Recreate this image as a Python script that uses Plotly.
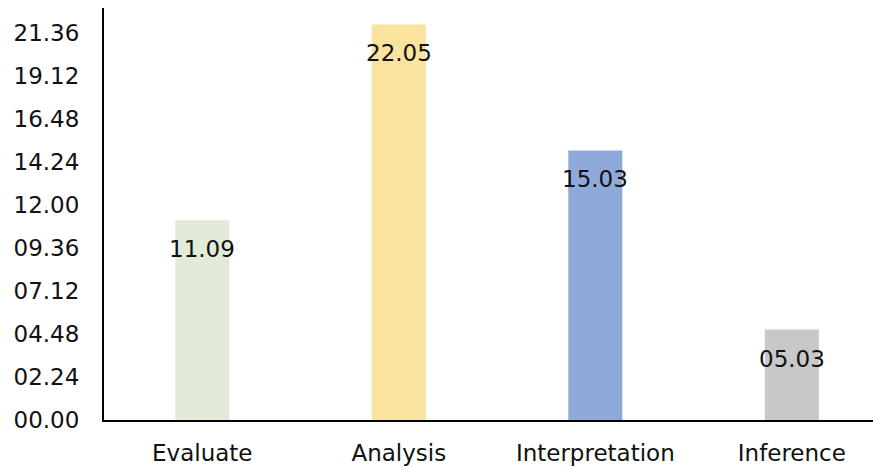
import plotly.graph_objects as go

# Durations recorded as minutes.seconds
categories = ["Evaluate", "Analysis", "Interpretation", "Inference"]
durations = ["11.09", "22.05", "15.03", "05.03"]
bar_colors = ["#E2EBD7", "#FAE39E", "#8FA9DB", "#C8C8C8"]
tick_labels = ["00.00", "02.24", "04.48", "07.12", "09.36",
               "12.00", "14.24", "16.48", "19.12", "21.36"]


def to_minutes(mmss):
    m, s = mmss.split(".")
    return int(m) + int(s) / 60.0


heights = [to_minutes(d) for d in durations]
tick_vals = [to_minutes(t) for t in tick_labels]

font_family = "DejaVu Sans"
text_color = "#111111"
font_size = 23

fig = go.Figure()
fig.add_trace(go.Bar(
    x=categories,
    y=heights,
    marker=dict(color=bar_colors, line=dict(width=0)),
    width=0.275,
    hoverinfo="skip",
))

# value labels just inside the top of each bar
for cat, h, lbl in zip(categories, heights, durations):
    fig.add_annotation(
        x=cat, y=h, text=lbl, showarrow=False,
        yanchor="middle", yshift=-29,
        font=dict(family=font_family, size=font_size, color=text_color),
    )

fig.update_layout(
    width=873, height=467,
    margin=dict(l=104, r=0, t=8, b=47, autoexpand=False),
    paper_bgcolor="white", plot_bgcolor="white",
    showlegend=False,
    bargap=0.5,
)
fig.update_xaxes(
    range=[-0.5, 3.413],
    showline=True, linecolor="#000000", linewidth=2,
    showgrid=False, zeroline=False, automargin=False,
    ticks="", ticklabelstandoff=11,
    tickfont=dict(family=font_family, size=font_size, color=text_color),
)
fig.update_yaxes(
    range=[0, 23],
    tickvals=tick_vals, ticktext=tick_labels,
    showline=True, linecolor="#000000", linewidth=2,
    showgrid=False, zeroline=False, automargin=False,
    ticks="", ticklabelstandoff=18,
    tickfont=dict(family=font_family, size=font_size, color=text_color),
)

fig.write_html("out.html")
